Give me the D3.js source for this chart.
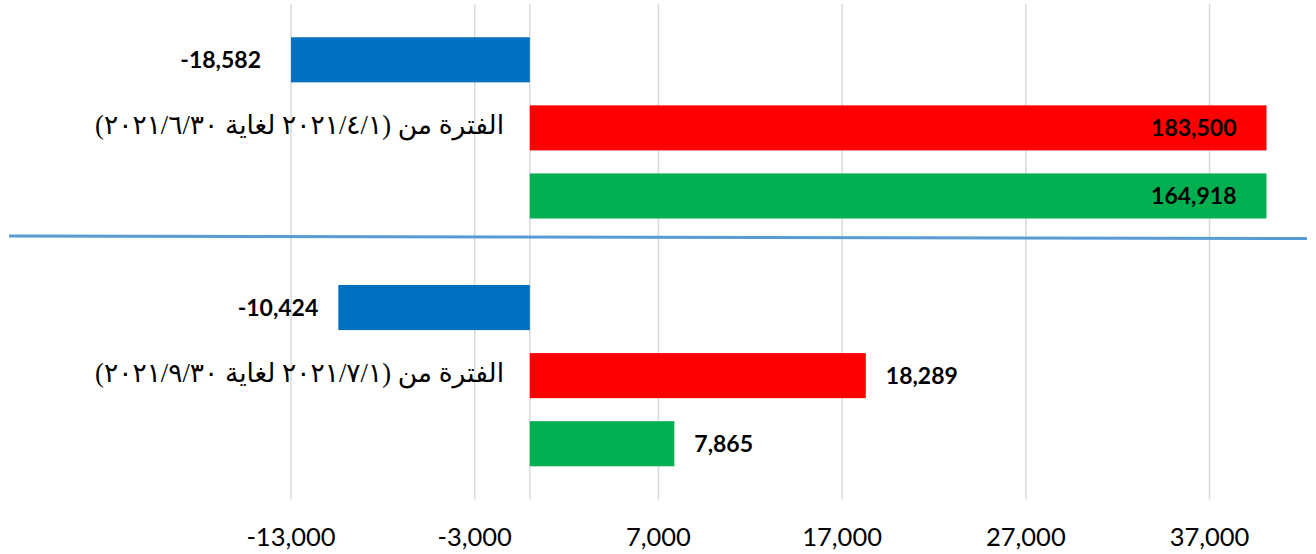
<!DOCTYPE html>
<html>
<head>
<meta charset="utf-8">
<script src="https://cdn.jsdelivr.net/npm/d3@7"></script>
<style>
  body { margin: 0; background: #fff; }
  svg { display: block; }
</style>
</head>
<body>
<div id="chart"></div>
<script>
var width = 1316;
var height = 554;

// categories top to bottom
var categories = [
  "الفترة من (٢٠٢١/٤/١ لغاية ٢٠٢١/٦/٣٠)",
  "الفترة من (٢٠٢١/٧/١ لغاية ٢٠٢١/٩/٣٠)"
];
var seriesNames = ["blue", "red", "green"];
var blueValues = [-18582, -10424];
var redValues = [183500, 18289];
var greenValues = [164918, 7865];
var tickValues = [-13000, -3000, 7000, 17000, 27000, 37000];

var colors = {blue: "#0070C0", red: "#FF0000", green: "#00B050"};

var xMin = -13000, xMax = 40100;
var plot = {left: 291, right: 1266.5, top: 4, bottom: 499.5};

var svg = d3.select("#chart").append("svg")
    .attr("width", width)
    .attr("height", height);

var x = d3.scaleLinear()
    .domain([xMin, xMax])
    .range([plot.left, plot.right])
    .clamp(true);

var y0 = d3.scaleBand()
    .domain(categories)
    .range([plot.top, plot.bottom]);

var y1 = d3.scaleBand()
    .domain(seriesNames)
    .range([33.25, y0.bandwidth() - 33.25])
    .paddingInner(0.338);

var rows = [];
categories.forEach(function(c, i) {
  rows.push({cat: c, s: "blue", value: blueValues[i]});
  rows.push({cat: c, s: "red", value: redValues[i]});
  rows.push({cat: c, s: "green", value: greenValues[i]});
});

// gridlines
svg.append("g").selectAll("line")
  .data(tickValues)
  .enter().append("line")
    .attr("x1", function(d) { return x(d); })
    .attr("x2", function(d) { return x(d); })
    .attr("y1", plot.top)
    .attr("y2", plot.bottom)
    .style("stroke", "#D9D9D9")
    .style("stroke-width", 1.5);

// vertical axis line at zero
svg.append("line")
    .attr("x1", x(0)).attr("x2", x(0))
    .attr("y1", plot.top).attr("y2", plot.bottom)
    .style("stroke", "#D9D9D9")
    .style("stroke-width", 1.5);

// bars
svg.append("g").selectAll("rect")
  .data(rows)
  .enter().append("rect")
    .attr("x", function(d) { return x(Math.min(0, d.value)); })
    .attr("width", function(d) { return Math.abs(x(d.value) - x(0)); })
    .attr("y", function(d) { return y0(d.cat) + y1(d.s); })
    .attr("height", y1.bandwidth())
    .style("fill", function(d) { return colors[d.s]; });

// data labels
var fmt = d3.format(",d");
svg.append("g").selectAll("text")
  .data(rows)
  .enter().append("text")
    .attr("x", function(d) {
      var clipped = d.value > xMax || d.value < xMin;
      var pad = clipped ? 30 : 20;
      if (d.value < 0) return x(d.value) - pad;
      if (clipped) return x(d.value) - pad;
      return x(d.value) + pad;
    })
    .attr("y", function(d) { return y0(d.cat) + y1(d.s) + y1.bandwidth() / 2 + 8; })
    .attr("text-anchor", function(d) {
      return (d.value < 0 || d.value > xMax) ? "end" : "start";
    })
    .style("font-family", "Lato, 'Open Sans', sans-serif")
    .style("font-weight", "bold")
    .style("font-size", "23px")
    .style("fill", "#000")
    .text(function(d) { return fmt(d.value).replace("−", "-"); });

// category labels
svg.append("g").selectAll("text")
  .data(categories)
  .enter().append("text")
    .attr("x", 504)
    .attr("y", function(d) { return y0(d) + y0.bandwidth() / 2 + 6; })
    .attr("direction", "rtl")
    .attr("text-anchor", "start")
    .style("font-family", "'Liberation Serif', 'DejaVu Sans', serif")
    .style("font-size", "26.5px")
    .style("fill", "#000")
    .text(function(d) { return d; });

// x axis tick labels
svg.append("g").selectAll("text")
  .data(tickValues)
  .enter().append("text")
    .attr("x", function(d) { return x(d); })
    .attr("y", 546)
    .attr("text-anchor", "middle")
    .style("font-family", "Lato, 'Open Sans', sans-serif")
    .style("font-size", "25.5px")
    .style("fill", "#000")
    .text(function(d) { return fmt(d).replace("−", "-"); });

// separator between the two periods
svg.append("line")
    .attr("x1", 9).attr("y1", 236)
    .attr("x2", 1307).attr("y2", 238.5)
    .style("stroke", "#5B9BD5")
    .style("stroke-width", 3);
</script>
</body>
</html>
